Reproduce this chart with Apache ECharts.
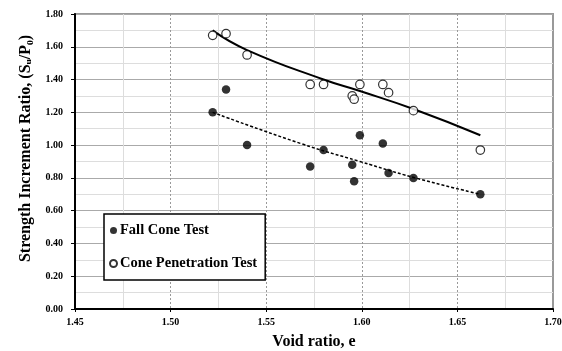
<!DOCTYPE html>
<html><head><meta charset="utf-8">
<script src="https://cdn.jsdelivr.net/npm/echarts@6/dist/echarts.min.js"></script>
<style>html,body{margin:0;padding:0;background:#fff}#c{width:562px;height:351px}</style>
</head><body><div id="c"></div>
<script>
// Fall Cone Test points [void ratio, ratio]
const fallConeE = [1.522, 1.529, 1.540, 1.573, 1.580, 1.599, 1.595, 1.596, 1.611, 1.614, 1.627, 1.662];
const fallConeV = [1.20, 1.34, 1.00, 0.87, 0.97, 1.06, 0.88, 0.78, 1.01, 0.83, 0.80, 0.70];
// Cone Penetration Test points
const conePenE = [1.522, 1.529, 1.540, 1.573, 1.580, 1.599, 1.595, 1.596, 1.611, 1.614, 1.627, 1.662];
const conePenV = [1.67, 1.68, 1.55, 1.37, 1.37, 1.37, 1.30, 1.28, 1.37, 1.32, 1.21, 0.97];
// Trend lines
const trendConeE = [1.522, 1.540, 1.580, 1.599, 1.627, 1.662];
const trendConeV = [1.70, 1.58, 1.40, 1.33, 1.22, 1.06];
const trendFallE = [1.522, 1.568, 1.599, 1.628, 1.662];
const trendFallV = [1.20, 1.01, 0.90, 0.80, 0.70];
const xTicks = [1.45, 1.50, 1.55, 1.60, 1.65, 1.70];
const yTicks = [0, 0.2, 0.4, 0.6, 0.8, 1.0, 1.2, 1.4, 1.6, 1.8];

const zip = (a, b) => a.map((v, i) => [v, b[i]]);
const serif = '"Liberation Serif", "Times New Roman", serif';
const chart = echarts.init(document.getElementById('c'));
chart.setOption({
  backgroundColor: '#fff',
  animation: false,
  grid: {left: 75, right: 9, top: 14, bottom: 42, show: true, borderColor: '#999', borderWidth: 2,
    outerBoundsMode: 'none', containLabel: false},
  legend: {
    left: 104, top: 214, orient: 'vertical',
    backgroundColor: '#fff', borderColor: '#000', borderWidth: 1.5,
    padding: [9, 8, 9, 5], itemGap: 18, itemWidth: 7, itemHeight: 7,
    textStyle: {fontFamily: serif, fontWeight: 'bold', fontSize: 14.5, color: '#000', padding: [0, 0, 0, -2]},
    data: [
      {name: 'Fall Cone Test', icon: 'circle'},
      {name: 'Cone Penetration Test', icon: 'circle'}
    ]
  },
  xAxis: {
    type: 'value', min: 1.45, max: 1.70, interval: 0.05,
    name: 'Void ratio, e', nameLocation: 'middle', nameGap: 25,
    nameTextStyle: {fontFamily: serif, fontWeight: 'bold', fontSize: 16, color: '#000'},
    axisLine: {lineStyle: {color: '#000', width: 2}},
    axisTick: {show: true, length: 3, lineStyle: {color: '#000'}},
    axisLabel: {fontFamily: serif, fontWeight: 'bold', fontSize: 10, color: '#000', margin: 8,
      formatter: v => v.toFixed(2)},
    splitLine: {show: true, lineStyle: {color: '#999', type: [2, 2], width: 1}},
    minorTick: {show: false, splitNumber: 2},
    minorSplitLine: {show: true, lineStyle: {color: '#ddd', width: 1}}
  },
  yAxis: {
    type: 'value', min: 0, max: 1.8, interval: 0.2,
    name: 'Strength Increment Ratio, (Sᵤ/P₀)', nameLocation: 'middle', nameGap: 41,
    nameTextStyle: {fontFamily: serif, fontWeight: 'bold', fontSize: 16, color: '#000', padding: [0, 0, 0, 26]},
    axisLine: {lineStyle: {color: '#000', width: 2}},
    axisTick: {show: true, length: 4, lineStyle: {color: '#000'}},
    axisLabel: {fontFamily: serif, fontWeight: 'bold', fontSize: 10, color: '#000', margin: 12,
      formatter: v => v.toFixed(2)},
    splitLine: {show: true, lineStyle: {color: '#aaa', width: 1}},
    minorTick: {show: false, splitNumber: 2},
    minorSplitLine: {show: true, lineStyle: {color: '#ddd', width: 1}}
  },
  series: [
    {name: 'trendCone', type: 'line', smooth: true, symbol: 'none', data: zip(trendConeE, trendConeV),
      lineStyle: {color: '#000', width: 2}, silent: true, z: 2},
    {name: 'trendFall', type: 'line', smooth: true, symbol: 'none', data: zip(trendFallE, trendFallV),
      lineStyle: {color: '#000', width: 1.5, type: [3, 2]}, silent: true, z: 2},
    {name: 'Fall Cone Test', type: 'scatter', symbol: 'circle', symbolSize: 8.5,
      data: zip(fallConeE, fallConeV), itemStyle: {color: '#000'}, z: 3},
    {name: 'Cone Penetration Test', type: 'scatter', symbol: 'circle', symbolSize: 8.5,
      data: zip(conePenE, conePenV), itemStyle: {color: '#fff', borderColor: '#000', borderWidth: 1.2}, z: 3}
  ]
});
</script></body></html>
